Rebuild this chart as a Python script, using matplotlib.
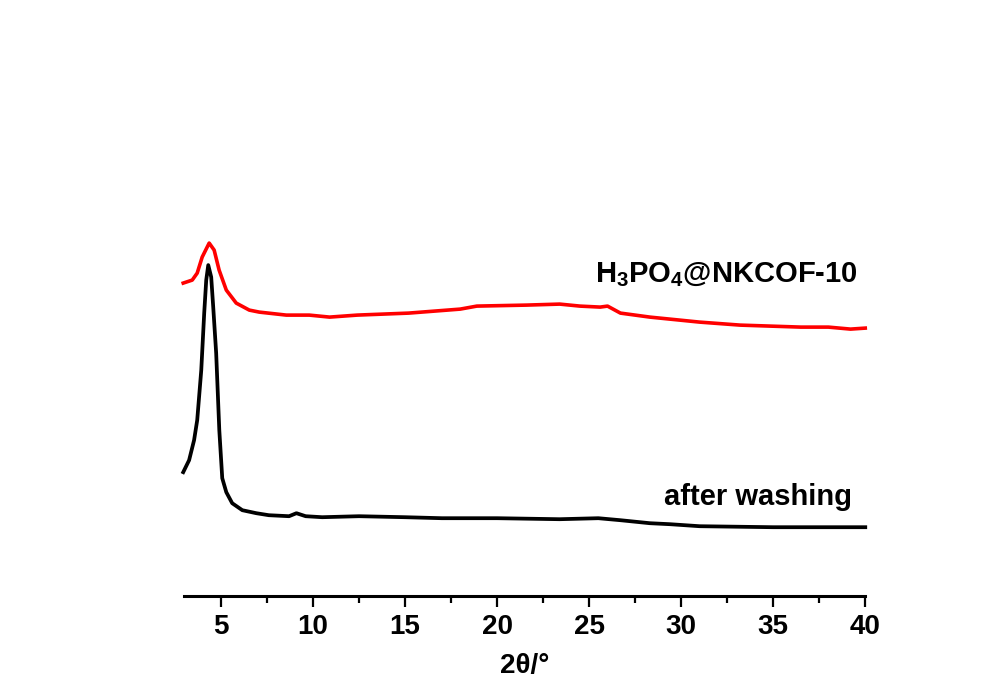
import matplotlib
matplotlib.use("Agg")
import matplotlib.pyplot as plt
from matplotlib.ticker import MultipleLocator

plt.rcParams['font.family'] = ['Liberation Sans', 'DejaVu Sans']
plt.rcParams['font.weight'] = 'bold'
plt.rcParams['mathtext.default'] = 'regular'

# XRD patterns, intensity in a.u. (already stacked)
two_theta_loaded = [2.95, 3.44, 3.71, 3.98, 4.36, 4.63, 4.9, 5.29, 5.83, 6.54, 7.08,
                    8.55, 9.8, 10.9, 12.4, 15.2, 18.0, 18.9, 21.6, 23.4, 24.5, 25.6,
                    26.0, 26.7, 28.3, 31.0, 33.2, 36.5, 38.0, 39.2, 40.0]
int_loaded = [313, 316, 323, 339, 353, 346, 326, 306, 293, 286, 284,
              281, 281, 279, 281, 283, 287, 290, 291, 292, 290, 289,
              290, 283, 279, 274, 271, 269, 269, 267, 268]

two_theta_washed = [2.95, 3.27, 3.54, 3.71, 3.93, 4.09, 4.2, 4.31, 4.47, 4.58, 4.74,
                    4.91, 5.07, 5.29, 5.61, 6.16, 6.92, 7.6, 8.7, 9.1, 9.6, 10.5,
                    12.5, 15.0, 17.0, 20.0, 23.4, 25.5, 26.7, 28.3, 29.4, 31.0,
                    35.0, 40.0]
int_washed = [124, 136, 156, 176, 226, 283, 316, 331, 319, 289, 243,
              166, 118, 104, 93, 86, 83, 81, 80, 83, 80, 79,
              80, 79, 78, 78, 77, 78, 76, 73, 72, 70,
              69, 69]

fig = plt.figure(figsize=(9.9, 6.99), dpi=100)
ax = fig.add_axes([0.186, 0.147, 0.688, 0.813])

ax.plot(two_theta_loaded, int_loaded, color='#ff0000', lw=2.6,
        solid_joinstyle='round', clip_on=False)
ax.plot(two_theta_washed, int_washed, color='black', lw=2.7,
        solid_joinstyle='round', clip_on=False)

ax.text(39.6, 321, 'H$_3$PO$_4$@NKCOF-10', ha='right', va='center',
        fontsize=21, fontweight='bold')
ax.text(39.3, 99, 'after washing', ha='right', va='center',
        fontsize=21, fontweight='bold')

ax.set_xlim(3, 40)
ax.set_ylim(0, 568)
ax.xaxis.set_major_locator(MultipleLocator(5))
ax.xaxis.set_minor_locator(MultipleLocator(2.5))
ax.tick_params(axis='x', which='major', length=8, width=1.6, labelsize=20, pad=5)
ax.tick_params(axis='x', which='minor', length=5, width=1.6)
for lab in ax.get_xticklabels():
    lab.set_fontweight('bold')
ax.set_yticks([])
for side in ['top', 'right', 'left']:
    ax.spines[side].set_visible(False)
ax.spines['bottom'].set_linewidth(2.2)
ax.set_xlabel('2θ/°', fontsize=20, fontweight='bold', labelpad=9)

fig.savefig('out.png', dpi=100)
